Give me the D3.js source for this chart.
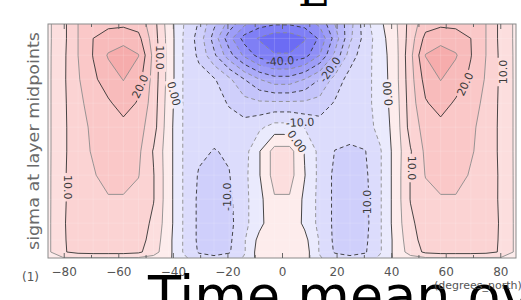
<!DOCTYPE html>
<html>
<head>
<meta charset="utf-8">
<script src="https://cdn.jsdelivr.net/npm/d3@7"></script>
<style>
  body { margin: 0; background: #fff; overflow: hidden; }
  svg { display: block; }
</style>
</head>
<body>
<div class="chart"></div>
<script>
// gaussian latitudes, south to north (degrees_north)
const latitudes = [-85.761, -80.269, -74.745, -69.213, -63.679, -58.143, -52.607, -47.070,
  -41.532, -35.995, -30.458, -24.920, -19.382, -13.844, -8.306, -2.769,
  2.769, 8.306, 13.844, 19.382, 24.920, 30.458, 35.995, 41.532,
  47.070, 52.607, 58.143, 63.679, 69.213, 74.745, 80.269, 85.761]

// sigma at layer midpoints, top to bottom
const sigmaLevels = [0.02, 0.08, 0.15, 0.25, 0.35, 0.45, 0.55, 0.65, 0.75, 0.85, 0.92, 0.97, 0.995]

// time mean zonal field, one row per sigma level
const uField = [
  [4, 8.5, 15, 17.5, 19, 19, 18, 12, 2.5, -5, -10.5, -19, -27, -34, -38, -39.5, -39.5, -38, -34, -25, -17, -7, -1, 4, 12, 18, 19, 19, 17.5, 15, 8.5, 4],
  [4, 8.5, 15, 20, 22, 23.5, 21.5, 12.5, 3, -5.5, -12, -22, -33, -42, -45.5, -48.5, -48.5, -45.5, -39, -28, -16, -8, -2, 3.5, 12.5, 21.5, 23.5, 22, 20, 15, 8.5, 4],
  [4, 8.8, 15, 20.2, 25.5, 27, 25.2, 13.5, 3, -5.5, -11, -19, -28, -36, -42, -44.5, -44.5, -42, -35, -24, -12.5, -7, -2.5, 3, 13.5, 25.2, 27, 25.5, 20.2, 15, 8.8, 4],
  [4, 9, 14.5, 19, 22.5, 25.2, 22, 13, 3, -5.5, -8, -9.5, -14, -20, -25, -28, -28, -25, -20, -13, -8, -6.5, -3, 3, 13, 22, 25.2, 22.5, 19, 14.5, 9, 4],
  [4, 9, 13.5, 17.5, 19.3, 22, 19.5, 12.5, 2.5, -5.5, -7.5, -8.5, -10.3, -13, -14, -14, -14, -14, -13, -9.5, -7.5, -6.5, -3, 2.5, 12.5, 19.5, 22, 19.3, 17.5, 13.5, 9, 4],
  [4, 9, 13, 16, 19, 18.5, 17, 12, 2, -5.5, -7.5, -8.5, -8.5, -8, -6, -3, -3, -5.2, -7.5, -8, -8, -7, -3.5, 2, 12, 17, 18.5, 19, 16, 13, 9, 4],
  [4, 9, 13, 15.5, 18, 18, 16, 9.6, 2, -5.5, -9, -10.2, -9.5, -7, -0.3, 7, 7, -0.3, -6.5, -10.1, -10.8, -10.2, -5.5, 2, 9.6, 16, 18, 18, 15.5, 13, 9, 4],
  [4, 9.2, 13, 14.5, 17, 17, 15.2, 10.2, 2, -5.5, -10.5, -12.5, -10.2, -6.5, -0.3, 7, 7, 0.2, -6.5, -11, -12.5, -11, -5.5, 2, 10.2, 15.2, 17, 17, 14.5, 13, 9.2, 4],
  [4, 9.3, 12.5, 13.5, 14.5, 14.5, 13.5, 10.2, 2, -5.5, -11, -13, -11, -6.5, -1.5, 4.5, 4.5, -1, -6.5, -11, -13, -11.5, -5.5, 2, 10.2, 13.5, 14.5, 14.5, 13.5, 12.5, 9.3, 4],
  [4, 9.5, 12.5, 13, 13.5, 13.5, 12.5, 9, 2, -5.5, -11, -13, -11.5, -6.5, -1.5, 3.5, 3.5, -1, -6.5, -11, -13, -11.5, -5.5, 2, 9, 12.5, 13.5, 13.5, 13, 12.5, 9.5, 4],
  [4, 9.5, 12, 12.5, 13, 13, 12, 8, 1.5, -5.5, -11, -12.5, -11, -5.5, 1.5, 3.5, 3.5, 1.5, -5.5, -11, -12.5, -11, -5.5, 1.5, 8, 12, 13, 13, 12.5, 12, 9.5, 4],
  [4, 9.5, 11.5, 12, 12, 12, 11, 7, 1.5, -5.5, -10.5, -11.5, -10.5, -5.5, 2.5, 3.5, 3.5, 2.5, -5.5, -10.5, -11.5, -10.5, -5.5, 1.5, 7, 11, 12, 12, 12, 11.5, 9.5, 4],
  [3, 4.5, 4.5, 4.5, 4.5, 4.5, 4.5, 3.5, 1, -4, -8, -9, -8, -4.5, 2, 3, 3, 2, -4.5, -8, -9, -8, -4, 1, 3.5, 4.5, 4.5, 4.5, 4.5, 4.5, 4.5, 3]
]

const contourLevels = d3.range(-50, 30, 5)
const levelColors = ['#6c6cf4', '#7f7ff5', '#8f8ff6', '#9d9df7', '#ababf8', '#b8b8f9', '#c4c4fa', '#cfcffb', '#dcdcfc', '#eaeafd',
  '#fdecec', '#fcdede', '#fbd3d3', '#fac8c8', '#f8bbbb', '#f6acac']
const xTicks = [-80, -60, -40, -20, 0, 20, 40, 60, 80]
const xMinorTicks = [-70, -50, -30, -10, 10, 30, 50, 70]

// contour labels: text, latitude, sigma, angle
const labelText = ['10.0', '20.0', '10.0', '0.00', '-10.0', '-40.0', '-20.0', '-10.0', '0.00', '-10.0', '0.00', '10.0', '20.0', '10.0']
const labelLat = [-78.4, -52.0, -44.7, -39.6, -20.2, -0.7, 17.6, 6.6, 5.5, 31.2, 38.8, 47.6, 67.1, 81.0]
const labelSigma = [0.70, 0.28, 0.16, 0.31, 0.74, 0.175, 0.21, 0.43, 0.51, 0.77, 0.31, 0.62, 0.27, 0.22]
const labelAngle = [90, -65, 90, 75, -90, -4, -55, -3, 55, -90, -95, 90, -65, -90]

const W = 521, H = 300
const plotL = 48, plotR = 516, plotT = 24, plotB = 258

const svg = d3.select('.chart').append('svg')
  .attr('width', W)
  .attr('height', H)

const x = d3.scaleLinear().domain([latitudes[0], latitudes[latitudes.length - 1]]).range([plotL, plotR])
const y = d3.scaleLinear().domain([sigmaLevels[0], sigmaLevels[sigmaLevels.length - 1]]).range([plotT, plotB])

const nx = latitudes.length, ny = sigmaLevels.length
const latAt = d3.scaleLinear().domain(d3.range(nx)).range(latitudes).clamp(true)
const sigAt = d3.scaleLinear().domain(d3.range(ny)).range(sigmaLevels).clamp(true)
const fx = c => x(latAt(c - 0.5))
const fy = c => y(sigAt(c - 0.5))

const contours = d3.contours()
  .size([nx, ny])
  .thresholds(contourLevels)(uField.flat())

const path = d3.geoPath(d3.geoTransform({
  point: function (px, py) { this.stream.point(fx(px), fy(py)) }
}))

svg.append('clipPath').attr('id', 'plotclip')
  .append('rect').attr('x', plotL).attr('y', plotT).attr('width', plotR - plotL).attr('height', plotB - plotT)

const plot = svg.append('g').attr('clip-path', 'url(#plotclip)')

plot.append('g').selectAll('path')
  .data(contours)
  .join('path')
  .attr('d', path)
  .attr('fill', (d, i) => levelColors[i])
  .attr('stroke', (d, i) => levelColors[i])
  .attr('stroke-width', 0.3)

// faint cell seams like the original fill
const seams = plot.append('g').attr('stroke', '#fff').attr('stroke-opacity', 0.22).attr('stroke-width', 0.7)
latitudes.forEach(v => seams.append('line').attr('x1', x(v)).attr('x2', x(v)).attr('y1', plotT).attr('y2', plotB))
sigmaLevels.forEach(v => seams.append('line').attr('x1', plotL).attr('x2', plotR).attr('y1', y(v)).attr('y2', y(v)))

// contour lines without the parts lying on the frame
const onEdge = (a, b) =>
  (Math.abs(a[0] - plotL) < 0.01 && Math.abs(b[0] - plotL) < 0.01) ||
  (Math.abs(a[0] - plotR) < 0.01 && Math.abs(b[0] - plotR) < 0.01) ||
  (Math.abs(a[1] - plotT) < 0.01 && Math.abs(b[1] - plotT) < 0.01) ||
  (Math.abs(a[1] - plotB) < 0.01 && Math.abs(b[1] - plotB) < 0.01)

function linePath(c) {
  let d = ''
  c.coordinates.forEach(poly => poly.forEach(ring => {
    const pts = ring.map(p => [fx(p[0]), fy(p[1])])
    let pen = false
    for (let i = 1; i < pts.length; i++) {
      const a = pts[i - 1], b = pts[i]
      if (onEdge(a, b)) { pen = false; continue }
      if (!pen) { d += 'M' + a[0].toFixed(2) + ',' + a[1].toFixed(2); pen = true }
      d += 'L' + b[0].toFixed(2) + ',' + b[1].toFixed(2)
    }
  }))
  return d
}

const mask = svg.append('mask').attr('id', 'lblmask')
  .attr('maskUnits', 'userSpaceOnUse')
  .attr('x', 0).attr('y', 0).attr('width', W).attr('height', H)
mask.append('rect').attr('width', W).attr('height', H).attr('fill', '#fff')

plot.append('g')
  .attr('mask', 'url(#lblmask)')
  .attr('fill', 'none')
  .selectAll('path')
  .data(contours.filter(c => c.value > -50))
  .join('path')
  .attr('d', linePath)
  .attr('stroke', d => d.value % 10 === 0 ? '#333' : '#8c8c8c')
  .attr('stroke-width', 0.9)
  .attr('stroke-dasharray', d => d.value < 0 ? '4,3' : null)

const labels = svg.append('g')
  .attr('font-family', 'DejaVu Sans, sans-serif')
  .attr('font-size', 11)
  .attr('fill', '#3a3a3a')

labelText.forEach((t, i) => {
  const g = labels.append('g')
    .attr('transform', `translate(${x(labelLat[i])},${y(labelSigma[i])}) rotate(${labelAngle[i]})`)
  const txt = g.append('text')
    .attr('text-anchor', 'middle')
    .attr('dy', '0.35em')
    .text(t)
  const w = txt.node().getComputedTextLength()
  mask.append('rect')
    .attr('transform', `translate(${x(labelLat[i])},${y(labelSigma[i])}) rotate(${labelAngle[i]})`)
    .attr('x', -w / 2 - 2).attr('y', -6).attr('width', w + 4).attr('height', 12)
    .attr('fill', '#000')
})

// frame
svg.append('rect')
  .attr('x', plotL).attr('y', plotT)
  .attr('width', plotR - plotL).attr('height', plotB - plotT)
  .attr('fill', 'none')
  .attr('stroke', '#8a8a8a')
  .attr('stroke-width', 1)

// axes, ticks pointing inwards
const axisB = svg.append('g')
  .attr('transform', `translate(0,${plotB})`)
  .call(d3.axisBottom(x).tickValues(xTicks).tickSize(-5).tickPadding(9))
axisB.select('.domain').remove()
axisB.selectAll('line').attr('stroke', '#666')
axisB.selectAll('text')
  .attr('font-family', 'DejaVu Sans, sans-serif')
  .attr('font-size', 12)
  .attr('fill', '#555')

const axisBm = svg.append('g')
  .attr('transform', `translate(0,${plotB})`)
  .call(d3.axisBottom(x).tickValues(xMinorTicks).tickSize(-3).tickFormat(''))
axisBm.select('.domain').remove()
axisBm.selectAll('line').attr('stroke', '#666')

const axisT = svg.append('g')
  .attr('transform', `translate(0,${plotT})`)
  .call(d3.axisTop(x).tickValues(xTicks).tickSize(-5).tickFormat(''))
axisT.select('.domain').remove()
axisT.selectAll('line').attr('stroke', '#666')

const axisTm = svg.append('g')
  .attr('transform', `translate(0,${plotT})`)
  .call(d3.axisTop(x).tickValues(xMinorTicks).tickSize(-3).tickFormat(''))
axisTm.select('.domain').remove()
axisTm.selectAll('line').attr('stroke', '#666')

// texts
svg.append('text')
  .attr('transform', 'translate(39,141) rotate(-90)')
  .attr('text-anchor', 'middle')
  .attr('font-family', 'DejaVu Sans, sans-serif')
  .attr('font-size', 16)
  .attr('fill', '#6a6a6a')
  .attr('textLength', 218)
  .attr('lengthAdjust', 'spacingAndGlyphs')
  .text('sigma at layer midpoints')

svg.append('text')
  .attr('x', 22).attr('y', 281)
  .attr('font-family', 'DejaVu Sans, sans-serif')
  .attr('font-size', 12)
  .attr('fill', '#555')
  .text('(1)')

svg.append('text')
  .attr('x', 148).attr('y', 314)
  .attr('font-family', 'DejaVu Sans, sans-serif')
  .attr('font-size', 54)
  .attr('fill', '#000')
  .text('Time mean over')

svg.append('text')
  .attr('x', 434).attr('y', 289)
  .attr('font-family', 'DejaVu Sans, sans-serif')
  .attr('font-size', 11)
  .attr('fill', '#555')
  .text('(degrees_north)')

svg.append('text')
  .attr('x', 314).attr('y', 6)
  .attr('text-anchor', 'middle')
  .attr('font-family', 'DejaVu Serif, serif')
  .attr('font-size', 44)
  .attr('fill', '#000')
  .text('E')
</script>
</body>
</html>
